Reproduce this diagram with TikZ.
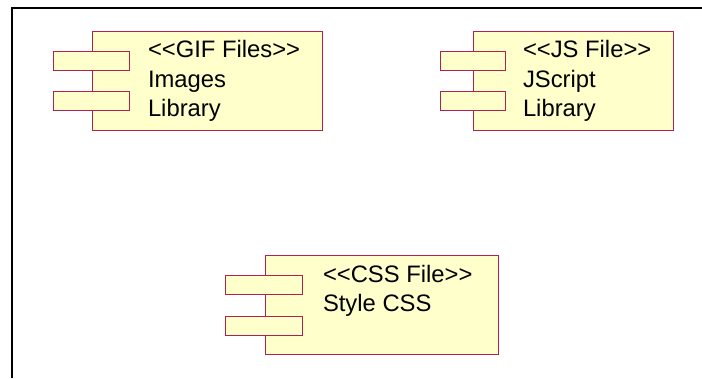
\documentclass[tikz,border=0pt]{standalone}
\usepackage{fontspec}
\setmainfont{Liberation Sans}
\definecolor{umlline}{HTML}{B0214F}
\definecolor{umlfill}{HTML}{FFFFCC}
\tikzset{
  body/.style={draw=umlline,fill=umlfill,line width=1pt,minimum width=#1,minimum height=99pt,inner sep=0pt,outer sep=0pt,anchor=north west},
  port/.style={draw=umlline,fill=umlfill,line width=1pt,minimum width=#1,minimum height=19pt,inner sep=0pt,outer sep=0pt,anchor=north west},
  label/.style={inner sep=0pt,outer sep=0pt,anchor=north west,align=left,font=\fontsize{23.8pt}{29.5pt}\selectfont}
}
\begin{document}
\begin{tikzpicture}[x=1pt,y=-1pt]
\useasboundingbox (0,0) rectangle (702,378);
\fill[white] (0,0) rectangle (702,378);
\draw[black,line width=2.2pt] (12.2,378) -- (12.2,8) -- (702,8);
\node[body=230pt] (gifbody) at (92.5,31.5) {};
\node[port=76pt] (gifporta) at (53.5,51.5) {};
\node[port=76pt] (gifportb) at (53.5,91.5) {};
\node[label] (giftext) at (148,40.5) {<{}<GIF Files>{}>\\Images\\Library};
\node[body=200pt] (jsbody) at (473.5,31.5) {};
\node[port=65pt] (jsporta) at (440.5,51.5) {};
\node[port=65pt] (jsportb) at (440.5,91.5) {};
\node[label] (jstext) at (523,40.5) {<{}<JS File>{}>\\JScript\\Library};
\node[body=233pt] (cssbody) at (265.5,255.5) {};
\node[port=77pt] (cssporta) at (225.5,275.5) {};
\node[port=77pt] (cssportb) at (225.5,316.5) {};
\node[label] (csstext) at (323,265) {<{}<CSS File>{}>\\Style CSS};
\end{tikzpicture}
\end{document}
